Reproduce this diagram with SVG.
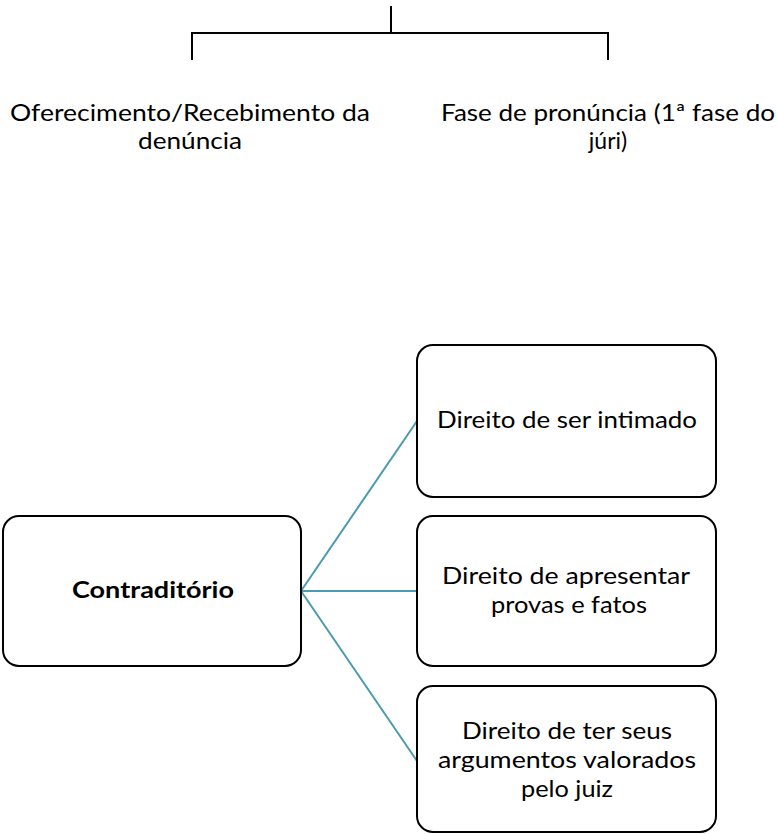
<svg xmlns="http://www.w3.org/2000/svg" width="778" height="834" viewBox="0 0 778 834">
<style>
.t{font-family:Lato,"Open Sans","Liberation Sans",sans-serif;font-size:23px;fill:#000;text-anchor:middle}
.b{font-weight:bold}
.box{fill:#fff;stroke:#000;stroke-width:2}
.br{fill:none;stroke:#000;stroke-width:2}
.c{stroke:#4A9BAE;stroke-width:2;fill:none}
</style>
<rect width="778" height="834" fill="#fff"/>
<g id="bracket">
<path class="br" d="M391 6 V33 M192 60 V33 H608 V60"/>
</g>
<g id="n-oferecimento">
<text class="t" x="190" y="121" textLength="360" lengthAdjust="spacingAndGlyphs">Oferecimento/Recebimento da</text>
<text class="t" x="190" y="149" textLength="104" lengthAdjust="spacingAndGlyphs">denúncia</text>
</g>
<g id="n-fase">
<text class="t" x="608" y="121" textLength="334" lengthAdjust="spacingAndGlyphs">Fase de pronúncia (1ª fase do</text>
<text class="t" x="608" y="149">júri)</text>
</g>
<g id="connectors">
<line class="c" x1="301" y1="591" x2="417" y2="421"/>
<line class="c" x1="301" y1="591" x2="417" y2="591" stroke-width="3"/>
<line class="c" x1="301" y1="591" x2="417" y2="761"/>
</g>
<g id="n-contraditorio">
<rect class="box" x="3" y="516" width="298" height="150" rx="16"/>
<text class="t b" x="153" y="598" textLength="162" lengthAdjust="spacingAndGlyphs">Contraditório</text>
</g>
<g id="n-intimado">
<rect class="box" x="417" y="345" width="299" height="152" rx="16"/>
<text class="t" x="567" y="428" textLength="260" lengthAdjust="spacingAndGlyphs">Direito de ser intimado</text>
</g>
<g id="n-provas">
<rect class="box" x="417" y="516" width="299" height="150" rx="16"/>
<text class="t" x="566" y="584" textLength="248" lengthAdjust="spacingAndGlyphs">Direito de apresentar</text>
<text class="t" x="569" y="613" textLength="156" lengthAdjust="spacingAndGlyphs">provas e fatos</text>
</g>
<g id="n-argumentos">
<rect class="box" x="417" y="686" width="299" height="146" rx="16"/>
<text class="t" x="567" y="739" textLength="210" lengthAdjust="spacingAndGlyphs">Direito de ter seus</text>
<text class="t" x="567" y="768" textLength="258" lengthAdjust="spacingAndGlyphs">argumentos valorados</text>
<text class="t" x="567" y="797" textLength="92" lengthAdjust="spacingAndGlyphs">pelo juiz</text>
</g>
</svg>
